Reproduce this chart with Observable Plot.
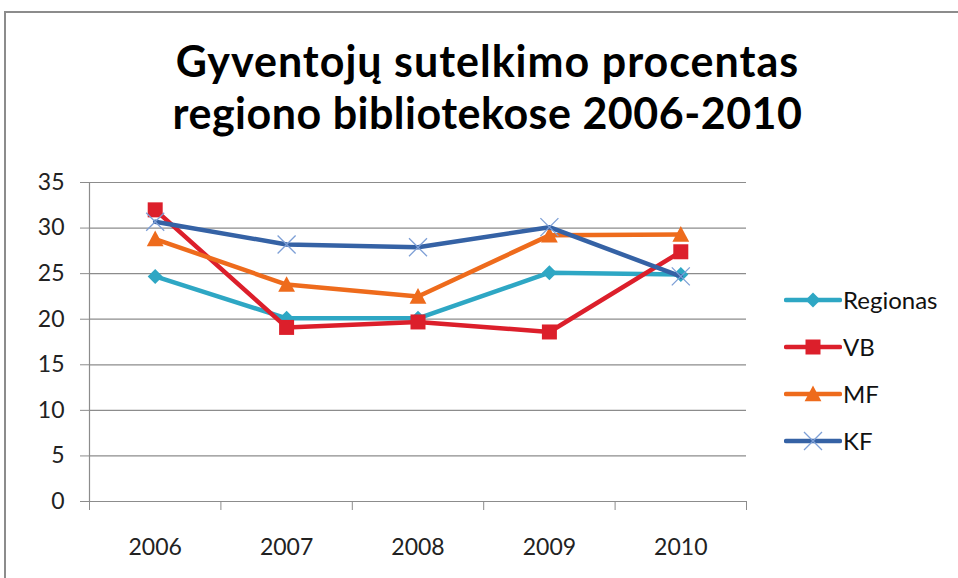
<!DOCTYPE html>
<html><head><meta charset="utf-8">
<script src="https://cdn.jsdelivr.net/npm/d3@7"></script>
<script src="https://cdn.jsdelivr.net/npm/@observablehq/plot@0.6"></script>
<style>
html,body{margin:0;padding:0;background:#fff;}
#wrap{position:relative;width:958px;height:578px;overflow:hidden;font-family:Lato,"Open Sans",sans-serif;}
#frame{position:absolute;left:4px;top:11px;width:1000px;height:700px;border-top:2px solid #8c8c8c;border-left:2px solid #8c8c8c;}
#title{position:absolute;left:0;top:35px;width:975px;text-align:center;font-weight:bold;font-size:43px;line-height:52px;color:#000;}
#title div{height:52px;white-space:nowrap;}
#chart{position:absolute;left:0;top:0;}
#legend{position:absolute;left:784px;top:276px;font-size:24px;color:#111;}
.row{display:flex;align-items:center;height:47px;}
.row svg{margin-right:1px;}
</style></head>
<body><div id="wrap"><div id="frame"></div><div id="chart"></div>
<div id="title"><div style="letter-spacing:1px">Gyventojų sutelkimo procentas</div><div style="letter-spacing:0.5px">regiono bibliotekose 2006-2010</div></div>
<div id="legend"></div></div>
<script>
const years = [2006, 2007, 2008, 2009, 2010];
const regionas = [24.7, 20.1, 20.1, 25.1, 24.9];
const vb = [32.0, 19.1, 19.7, 18.6, 27.4];
const mf = [28.8, 23.8, 22.5, 29.2, 29.3];
const kf = [30.7, 28.2, 27.9, 30.1, 24.7];
const seriesNames = ["Regionas", "VB", "MF", "KF"];
const seriesColors = ["#2ea7c4", "#dc1f2b", "#ee6b1c", "#3562a5"];
const kfMarkerColor = "#7d9fd6";
const yTicks = [0, 5, 10, 15, 20, 25, 30, 35];
const xBounds = [2005.5, 2006.5, 2007.5, 2008.5, 2009.5, 2010.5];

const seriesValues = [regionas, vb, mf, kf];
const rows = seriesNames.flatMap((name, i) => years.map((yr, j) => ({series: name, year: yr, value: seriesValues[i][j]})));

const diamond = {draw(c, size){const r = Math.sqrt(size/Math.PI); c.moveTo(0,-r); c.lineTo(r,0); c.lineTo(0,r); c.lineTo(-r,0); c.closePath();}};
const square = {draw(c, size){const r = Math.sqrt(size/Math.PI); c.rect(-r,-r,2*r,2*r);}};
const triangle = {draw(c, size){const r = Math.sqrt(size/Math.PI); c.moveTo(0,-r*1.05); c.lineTo(r*1.05,r*0.9); c.lineTo(-r*1.05,r*0.9); c.closePath();}};
const cross = {draw(c, size){const r = Math.sqrt(size/Math.PI); c.moveTo(-r,-r); c.lineTo(r,r); c.moveTo(r,-r); c.lineTo(-r,r);}};
const symbols = [diamond, square, triangle, cross];
const sizes = [7.5, 7.5, 8, 9];

const marks = [
  Plot.gridY(yTicks, {stroke: "#8c8c8c", strokeOpacity: 1, strokeWidth: 1.2}),
  Plot.axisY(yTicks, {tickSize: 9, tickPadding: 16, stroke: "#8c8c8c", fontSize: 23, fill: "#222", label: null}),
  Plot.axisX(xBounds, {tickSize: 9, stroke: "#8c8c8c", tickFormat: () => "", label: null}),
  Plot.axisX(years, {tickSize: 0, tickPadding: 37, fontSize: 23, fill: "#222", tickFormat: d => String(d), label: null}),
  Plot.ruleY([0], {stroke: "#8c8c8c", strokeWidth: 1.2}),
  Plot.ruleX([2005.5], {y1: 0, y2: 35, stroke: "#8c8c8c", strokeWidth: 1.2})
];
seriesNames.forEach((name, i) => {
  const data = rows.filter(d => d.series === name);
  marks.push(Plot.line(data, {x: "year", y: "value", stroke: seriesColors[i], strokeWidth: 4.5}));
  if (i === 3) {
    marks.push(Plot.dot(data, {x: "year", y: "value", symbol: symbols[i], r: sizes[i], stroke: kfMarkerColor, strokeWidth: 1.3, fill: "none"}));
  } else {
    marks.push(Plot.dot(data, {x: "year", y: "value", symbol: symbols[i], r: sizes[i], fill: seriesColors[i], stroke: "none"}));
  }
});

const chart = Plot.plot({
  width: 958, height: 578,
  marginLeft: 89, marginRight: 212, marginTop: 182, marginBottom: 77,
  style: {background: "transparent", fontFamily: "Lato, 'Open Sans', sans-serif"},
  x: {type: "linear", domain: [2005.5, 2010.5], axis: null},
  y: {domain: [0, 35], axis: null},
  marks
});
document.getElementById("chart").appendChild(chart);

// legend
const leg = document.getElementById("legend");
seriesNames.forEach((name, i) => {
  const row = document.createElement("div"); row.className = "row";
  const s = d3.create("svg").attr("width", 58).attr("height", 24);
  s.append("line").attr("x1", 2).attr("x2", 56).attr("y1", 12).attr("y2", 12).attr("stroke", seriesColors[i]).attr("stroke-width", 4.5).attr("stroke-linecap", "round");
  const p = d3.path(); symbols[i].draw(p, Math.PI * sizes[i] * sizes[i]);
  const g = s.append("path").attr("d", p.toString()).attr("transform", "translate(29,12)");
  if (i === 3) g.attr("fill", "none").attr("stroke", kfMarkerColor).attr("stroke-width", 1.3);
  else g.attr("fill", seriesColors[i]);
  row.appendChild(s.node());
  const t = document.createElement("span"); t.textContent = name; row.appendChild(t);
  leg.appendChild(row);
});
</script></body></html>
